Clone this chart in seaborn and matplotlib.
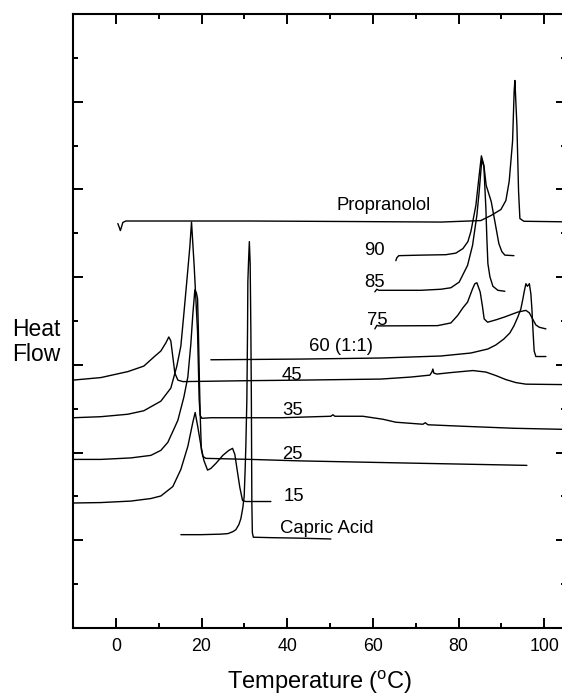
import matplotlib
matplotlib.use("Agg")
import matplotlib.pyplot as plt
from matplotlib.ticker import MultipleLocator
import numpy as np
import pandas as pd
import seaborn as sns

# ---------------- data ----------------
prop_T = [0.47, 0.82, 1.05, 1.28, 1.63, 2.33, 31.5, 54.9, 75.9, 85.2, 87.6, 89.9, 91.06,
          91.83, 92.62, 92.99, 93.16, 93.63, 94.02, 94.33, 95.26, 104.4]
prop_hf = [4.611, 4.565, 4.531, 4.565, 4.623, 4.640, 4.640, 4.634, 4.628, 4.645, 4.703, 4.771, 4.874,
           5.092, 5.549, 6.121, 6.242, 5.732, 4.977, 4.668, 4.637, 4.631]

s90_T = [65.37, 65.61, 66.07, 71.21, 77.05, 79.38, 81.02, 82.19, 82.89, 84.05, 84.82, 85.34,
         85.92, 86.46, 87.63, 88.49, 89.42, 90.12, 90.82, 92.93]
s90_hf = [4.188, 4.222, 4.245, 4.251, 4.256, 4.274, 4.325, 4.405, 4.520, 4.817, 5.160, 5.383,
          5.275, 5.046, 4.863, 4.634, 4.382, 4.291, 4.251, 4.245]

s85_T = [60.47, 60.94, 61.41, 71.21, 75.88, 78.22, 80.16, 82.11, 83.28, 84.29, 84.82, 85.45,
         85.92, 86.39, 86.62, 86.86, 87.33, 88.03, 89.19, 90.82]
s85_hf = [3.833, 3.862, 3.850, 3.850, 3.862, 3.879, 3.944, 4.134, 4.363, 4.706, 4.974, 5.343,
          5.263, 4.783, 4.439, 4.153, 4.005, 3.896, 3.850, 3.839]

s75_T = [60.47, 60.94, 61.41, 75.11, 78.22, 79.78, 81.02, 82.11, 83.28, 83.82, 84.29, 85.06,
         85.57, 85.99, 86.79, 88.72, 90.66, 93.79, 95.73, 96.54, 97.29, 98.06, 98.83, 100.4]
s75_hf = [3.410, 3.450, 3.444, 3.447, 3.478, 3.562, 3.650, 3.715, 3.867, 3.925, 3.936, 3.830,
          3.673, 3.524, 3.486, 3.513, 3.544, 3.601, 3.621, 3.593, 3.524, 3.455, 3.429, 3.410]

s60_T = [22.18, 43.19, 61.87, 75.88, 82.89, 86.86, 88.72, 90.59, 91.99, 92.93, 93.86, 94.56,
         95.03, 95.33, 95.73, 96.08, 96.54, 96.89, 97.13, 97.43, 97.66, 98.06, 100.4]
s60_hf = [3.058, 3.066, 3.078, 3.101, 3.135, 3.181, 3.227, 3.295, 3.364, 3.444, 3.547, 3.639,
          3.753, 3.833, 3.925, 3.896, 3.925, 3.810, 3.639, 3.353, 3.158, 3.095, 3.095]

s45_T = [-10.0, -3.50, 2.80, 6.54, 8.87, 10.51, 11.67, 12.37, 12.84, 13.31, 13.78, 14.48, 15.64,
         31.52, 43.19, 61.87, 68.88, 73.31, 73.78, 74.01, 74.24, 74.95, 78.22, 83.35, 86.39,
         88.72, 91.06, 93.39, 95.73, 104.4]
s45_hf = [2.826, 2.855, 2.923, 2.986, 3.089, 3.158, 3.250, 3.318, 3.272, 3.089, 2.906, 2.826, 2.809,
          2.820, 2.826, 2.838, 2.861, 2.883, 2.918, 2.952, 2.906, 2.895, 2.912, 2.935, 2.918,
          2.878, 2.832, 2.798, 2.780, 2.775]

s35_T = [-10.0, -3.50, 2.80, 6.54, 10.51, 12.84, 14.24, 15.18, 15.88, 16.58, 17.28, 17.67,
         18.28, 19.08, 19.45, 19.68, 20.08, 22.18, 38.52, 50.20, 50.67, 51.13, 57.67, 62.34,
         65.37, 71.68, 72.26, 72.85, 81.02, 92.93, 104.4]
s35_hf = [2.397, 2.409, 2.437, 2.477, 2.586, 2.735, 2.986, 3.215, 3.581, 3.959, 4.348, 4.628,
          4.134, 3.375, 2.609, 2.426, 2.391, 2.397, 2.397, 2.414, 2.431, 2.414, 2.414, 2.380,
          2.346, 2.323, 2.340, 2.317, 2.300, 2.277, 2.265]

s25_T = [-10.0, -3.50, 3.50, 8.17, 10.51, 12.14, 13.54, 14.48, 15.88, 16.81, 17.51, 17.98,
         18.45, 18.80, 19.08, 19.26, 19.50, 19.73, 19.96, 20.31, 21.01, 31.52, 43.19, 66.54, 95.96]
s25_hf = [1.922, 1.922, 1.939, 1.968, 2.025, 2.117, 2.266, 2.368, 2.632, 2.861, 3.238, 3.581,
          3.856, 3.822, 3.753, 3.410, 2.838, 2.380, 2.037, 1.957, 1.934, 1.922, 1.905, 1.882, 1.854]

s15_T = [-10.0, -3.50, 3.50, 8.17, 10.51, 13.31, 15.18, 16.81, 17.98, 18.52, 19.15, 19.85,
         20.55, 21.41, 22.18, 23.35, 24.98, 26.38, 27.25, 27.78, 28.41, 28.95, 29.58, 30.35, 36.19]
s15_hf = [1.425, 1.430, 1.447, 1.476, 1.505, 1.613, 1.808, 2.071, 2.346, 2.457, 2.288, 2.082,
          1.911, 1.800, 1.819, 1.876, 1.968, 2.025, 2.048, 1.979, 1.774, 1.602, 1.453, 1.442, 1.442]

capric_T = [15.18, 19.85, 24.52, 26.15, 27.32, 28.02, 28.72, 29.19, 29.65, 29.96, 30.19, 30.35,
            30.59, 30.75, 30.82, 30.98, 31.17, 31.36, 31.52, 31.64, 31.75, 31.87, 32.10, 36.19,
            43.19, 50.20]
capric_hf = [1.064, 1.064, 1.070, 1.076, 1.098, 1.121, 1.179, 1.247, 1.373, 1.499, 1.808, 2.071,
             2.609, 3.410, 3.947, 4.176, 4.405, 4.153, 3.410, 2.609, 1.430, 1.087, 1.035, 1.030,
             1.024, 1.015]

curve_names = ["Propranolol", "90", "85", "75", "60 (1:1)", "45", "35", "25", "15", "Capric Acid"]
curve_T = [prop_T, s90_T, s85_T, s75_T, s60_T, s45_T, s35_T, s25_T, s15_T, capric_T]
curve_hf = [prop_hf, s90_hf, s85_hf, s75_hf, s60_hf, s45_hf, s35_hf, s25_hf, s15_hf, capric_hf]

label_text = ["Propranolol", "90", "85", "75", "60 (1:1)", "45", "35", "25", "15", "Capric Acid"]
label_T = [51.6, 57.9, 57.9, 58.6, 45.1, 38.8, 38.8, 38.8, 39.1, 38.4]
label_hf = [4.76, 4.256, 3.89, 3.455, 3.158, 2.832, 2.431, 1.922, 1.447, 1.087]

x_ticks = [0, 20, 40, 60, 80, 100]

# ---------------- build table ----------------
rows = []
for name, ts, hs in zip(curve_names, curve_T, curve_hf):
    for i, (t, h) in enumerate(zip(ts, hs)):
        rows.append({"sample": name, "order": i, "T": t, "HF": h})
df = pd.DataFrame(rows)

# ---------------- plot ----------------
sns.set_style("ticks")
plt.rcParams["font.family"] = ["Liberation Sans", "DejaVu Sans"]
plt.rcParams["mathtext.fontset"] = "custom"
plt.rcParams["mathtext.rm"] = "Liberation Sans"
plt.rcParams["mathtext.it"] = "Liberation Sans:italic"
plt.rcParams["text.color"] = "black"
plt.rcParams["axes.labelcolor"] = "black"
plt.rcParams["xtick.color"] = "black"
plt.rcParams["ytick.color"] = "black"
plt.rcParams["axes.edgecolor"] = "black"

fig = plt.figure(figsize=(5.62, 6.96), dpi=100)
ax = fig.add_axes([73 / 562, 68 / 696, 492.6 / 562, 614 / 696])

sns.lineplot(data=df, x="T", y="HF", units="sample", estimator=None, sort=False,
             color="black", linewidth=1.0, ax=ax, legend=False)

for txt, t, h in zip(label_text, label_T, label_hf):
    ax.text(t, h, txt, fontsize=13.3, ha="left", va="baseline", color="black")

ax.set_xlim(-10, 105)
ax.set_ylim(0, 7)
ax.set_xticks(x_ticks)
ax.xaxis.set_minor_locator(MultipleLocator(10))
ax.yaxis.set_major_locator(MultipleLocator(1))
ax.yaxis.set_minor_locator(MultipleLocator(0.5))
ax.tick_params(axis="both", which="both", direction="in", top=True, right=True,
               labelleft=False, width=1.4, color="black", labelcolor="black")
ax.tick_params(axis="both", which="major", length=7.2)
ax.tick_params(axis="both", which="minor", length=3.8)
ax.tick_params(axis="x", which="major", labelsize=12.8, pad=7.5)

for sp in ax.spines.values():
    sp.set_visible(True)
    sp.set_linewidth(1.5)
    sp.set_color("black")

ax.set_xlabel("Temperature ($^{\\rm o}$C)", fontsize=17, labelpad=9.5, color="black")
ax.set_ylabel("Heat\nFlow", fontsize=16.5, rotation=0, ha="left", va="center",
              linespacing=1.15, color="black")
ax.yaxis.set_label_coords(-0.124, 0.466)

fig.savefig("out.png", dpi=100)
